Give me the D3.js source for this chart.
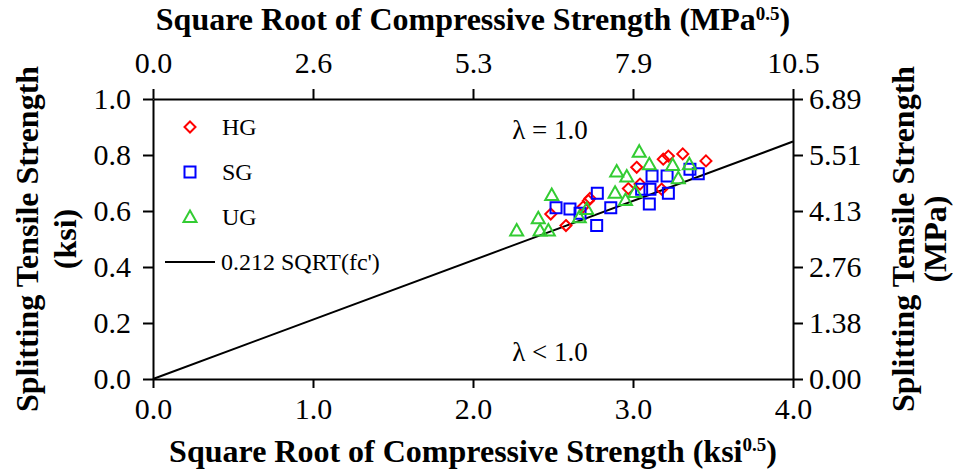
<!DOCTYPE html>
<html>
<head>
<meta charset="utf-8">
<script src="https://cdn.jsdelivr.net/npm/d3@7"></script>
<style>
body { margin: 0; background: #fff; }
text { font-family: "Liberation Serif", "Times New Roman", serif; }
</style>
</head>
<body>
<svg id="chart"></svg>
<script>
// data (x = sqrt(fc') ksi^0.5, y = splitting strength ksi)
var hgX = [2.486, 2.581, 2.689, 2.721, 2.731, 2.971, 3.023, 3.044, 3.179, 3.189, 3.221, 3.311, 3.456];
var hgY = [0.589, 0.548, 0.615, 0.637, 0.645, 0.680, 0.756, 0.696, 0.678, 0.785, 0.796, 0.804, 0.779];
var sgX = [2.519, 2.606, 2.669, 2.777, 2.773, 2.861, 3.054, 3.106, 3.102, 3.221, 3.119, 3.213, 3.356, 3.408];
var sgY = [0.612, 0.607, 0.592, 0.663, 0.548, 0.612, 0.678, 0.678, 0.625, 0.663, 0.725, 0.725, 0.749, 0.733];
var ugX = [2.273, 2.408, 2.419, 2.471, 2.492, 2.664, 2.711, 2.888, 2.898, 2.961, 2.953, 3.013, 3.039, 3.102, 3.248, 3.352, 3.283];
var ugY = [0.530, 0.574, 0.530, 0.530, 0.657, 0.578, 0.607, 0.665, 0.741, 0.723, 0.639, 0.668, 0.812, 0.767, 0.764, 0.767, 0.717];
var fitCoef = 0.212;
var fitX = [0, 4];
var xTicks = [0, 1, 2, 3, 4];
var yTicks = [0, 0.2, 0.4, 0.6, 0.8, 1.0];
var topLabels = ["0.0", "2.6", "5.3", "7.9", "10.5"];
var rightLabels = ["0.00", "1.38", "2.76", "4.13", "5.51", "6.89"];
var seriesNames = ["HG", "SG", "UG"];

var w = 953;
var h = 472;
var margin = {
	left: 153,
	right: 160,
	top: 99,
	bottom: 93
}

var svg = d3.select("#chart")
	.attr("width", w)
	.attr("height", h);

var xScale = d3.scaleLinear()
	.domain([0, 4])
	.range([margin.left, w - margin.right]);
var yScale = d3.scaleLinear()
	.domain([0, 1])
	.range([h - margin.bottom, margin.top]);

function styleAxis(g) {
	g.selectAll("path").attr("stroke", "black").attr("stroke-width", 2);
	g.selectAll("line").attr("stroke", "black").attr("stroke-width", 2);
	g.selectAll("text").attr("font-size", 30).attr("fill", "black")
		.style("font-family", "'Liberation Serif', 'Times New Roman', serif");
}

var xAxis = d3.axisBottom(xScale).tickValues(xTicks).tickSize(9).tickSizeOuter(0)
	.tickPadding(10).tickFormat(d3.format(".1f"));
svg.append("g")
	.attr("transform", "translate(0," + (h - margin.bottom) + ")")
	.call(xAxis)
	.call(styleAxis);

var xAxisTop = d3.axisTop(xScale).tickValues(xTicks).tickSize(10).tickSizeOuter(0)
	.tickPadding(16).tickFormat(function (d, i) { return topLabels[i]; });
svg.append("g")
	.attr("transform", "translate(0," + margin.top + ")")
	.call(xAxisTop)
	.call(styleAxis);

var yAxis = d3.axisLeft(yScale).tickValues(yTicks).tickSize(10).tickSizeOuter(0)
	.tickPadding(12).tickFormat(d3.format(".1f"));
svg.append("g")
	.attr("transform", "translate(" + margin.left + ",0)")
	.call(yAxis)
	.call(styleAxis);

var yAxisRight = d3.axisRight(yScale).tickValues(yTicks).tickSize(10).tickSizeOuter(0)
	.tickPadding(6).tickFormat(function (d, i) { return rightLabels[i]; });
svg.append("g")
	.attr("transform", "translate(" + (w - margin.right) + ",0)")
	.call(yAxisRight)
	.call(styleAxis);

// fit line
var line = d3.line()
	.x(function (d) { return xScale(d); })
	.y(function (d) { return yScale(fitCoef * d); });
svg.append("path")
	.datum(fitX)
	.attr("d", line)
	.attr("fill", "none")
	.attr("stroke", "black")
	.attr("stroke-width", 2);

// marker shapes
var shapes = {
	HG: "M0,-5.5L5.5,0L0,5.5L-5.5,0Z",
	SG: "M-5.5,-5.5L5.5,-5.5L5.5,5.5L-5.5,5.5Z",
	UG: "M0,-6.5L6.5,5L-6.5,5Z"
};
var colors = { HG: "#ff0000", SG: "#0000ff", UG: "#33cc33" };

function zip(xs, ys) {
	return xs.map(function (x, i) { return { x: x, y: ys[i] }; });
}
var series = [
	{ name: "HG", values: zip(hgX, hgY) },
	{ name: "SG", values: zip(sgX, sgY) },
	{ name: "UG", values: zip(ugX, ugY) }
];

series.forEach(function (s) {
	svg.append("g").selectAll("path")
		.data(s.values)
		.enter()
		.append("path")
		.attr("d", shapes[s.name])
		.attr("transform", function (d) {
			return "translate(" + xScale(d.x) + "," + yScale(d.y) + ")";
		})
		.attr("fill", "none")
		.attr("stroke", colors[s.name])
		.attr("stroke-width", 2);
});

// legend
var legend = svg.append("g");
seriesNames.forEach(function (name, i) {
	var ly = 127 + i * 45;
	legend.append("path")
		.attr("d", shapes[name])
		.attr("transform", "translate(190," + ly + ")")
		.attr("fill", "none")
		.attr("stroke", colors[name])
		.attr("stroke-width", 2);
	legend.append("text")
		.attr("x", 222)
		.attr("y", ly)
		.attr("dy", "0.35em")
		.attr("font-size", 24)
		.text(name);
});
legend.append("line")
	.attr("x1", 165).attr("x2", 215)
	.attr("y1", 262).attr("y2", 262)
	.attr("stroke", "black")
	.attr("stroke-width", 2);
legend.append("text")
	.attr("x", 221)
	.attr("y", 262)
	.attr("dy", "0.35em")
	.attr("font-size", 24)
	.text("0.212 SQRT(fc')");

// region notes
svg.append("text")
	.attr("x", 550).attr("y", 130).attr("dy", "0.35em")
	.attr("text-anchor", "middle")
	.attr("font-size", 27)
	.text("λ = 1.0");
svg.append("text")
	.attr("x", 550).attr("y", 352).attr("dy", "0.35em")
	.attr("text-anchor", "middle")
	.attr("font-size", 27)
	.text("λ < 1.0");

// axis titles
var bottomTitle = svg.append("text")
	.attr("x", xScale(2)).attr("y", 462)
	.attr("text-anchor", "middle")
	.attr("font-size", 32)
	.attr("font-weight", "bold");
bottomTitle.append("tspan").text("Square Root of Compressive Strength (ksi");
bottomTitle.append("tspan").attr("dy", -11).attr("font-size", 19).text("0.5");
bottomTitle.append("tspan").attr("dy", 11).text(")");

var topTitle = svg.append("text")
	.attr("x", xScale(2)).attr("y", 30)
	.attr("text-anchor", "middle")
	.attr("font-size", 32)
	.attr("font-weight", "bold");
topTitle.append("tspan").text("Square Root of Compressive Strength (MPa");
topTitle.append("tspan").attr("dy", -10).attr("font-size", 19).text("0.5");
topTitle.append("tspan").attr("dy", 10).text(")");

var leftTitle = svg.append("text")
	.attr("transform", "translate(38," + yScale(0.5) + ") rotate(-90)")
	.attr("text-anchor", "middle")
	.attr("font-size", 32)
	.attr("font-weight", "bold");
leftTitle.append("tspan").attr("x", 0).attr("y", 0).text("Splitting Tensile Strength");
leftTitle.append("tspan").attr("x", 0).attr("y", 38).text("(ksi)");

var rightTitle = svg.append("text")
	.attr("transform", "translate(914," + yScale(0.5) + ") rotate(-90)")
	.attr("text-anchor", "middle")
	.attr("font-size", 32)
	.attr("font-weight", "bold");
rightTitle.append("tspan").attr("x", 0).attr("y", 0).text("Splitting Tensile Strength");
rightTitle.append("tspan").attr("x", 0).attr("y", 32).text("(MPa)");
</script>
</body>
</html>
